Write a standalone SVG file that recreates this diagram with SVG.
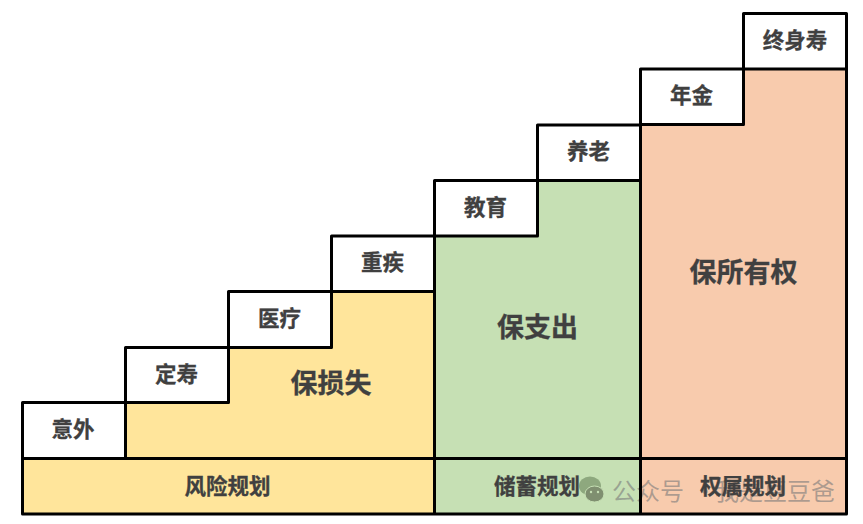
<svg xmlns="http://www.w3.org/2000/svg" width="863" height="524" viewBox="0 0 863 524">
<style>
.l{fill:none;stroke:#000;stroke-width:3;stroke-linejoin:round;stroke-linecap:round}
.c{fill:#fff;stroke:#000;stroke-width:3;stroke-linejoin:round}
text{font-family:"Noto Sans CJK SC","Noto Sans",sans-serif;font-weight:700;fill:#404040;stroke:#404040;stroke-width:.3;text-anchor:middle;dominant-baseline:central}
.s{font-size:21.500px}
.b{font-size:27px}
.w{font-size:24px;font-weight:400;fill:#7a7a7a;fill-opacity:.6;stroke:none;text-anchor:start}
</style>
<rect width="863" height="524" fill="#fff"/>
<g id="fills">
<path d="M22.500 458.500V514H434.500V292H331.500V347.500H125.500V458.500Z" fill="#ffe59b"/>
<path d="M434.500 514V236H537.500V181H640.500V514Z" fill="#c6e0b4"/>
<path d="M640.500 514V125H743.500V69H846.500V514Z" fill="#f8cbad"/>
</g>
<g id="watermark">
<ellipse cx="590" cy="486" rx="11" ry="9.500" fill="#7f9a70" fill-opacity=".8"/>
<ellipse cx="594.500" cy="494" rx="9.500" ry="8" fill="#7f8f70" stroke="#c6e0b4" stroke-width="1"/>
<circle cx="591" cy="492" r="1.200" fill="#c6e0b4"/>
<circle cx="598" cy="492" r="1.200" fill="#c6e0b4"/>
<text class="w" x="612" y="489">公众号</text>
<text class="w" x="693" y="489">·</text>
<text class="w" x="715" y="489">我是豆豆爸</text>
</g>
<g id="node-yiwai"><rect class="c" x="22.500" y="402.500" width="103" height="56"/><text class="s" x="73" y="427">意外</text></g>
<g id="node-dingshou"><rect class="c" x="125.500" y="347.500" width="103" height="55"/><text class="s" x="176.500" y="372">定寿</text></g>
<g id="node-yiliao"><rect class="c" x="228.500" y="291.500" width="103" height="56"/><text class="s" x="279.500" y="316">医疗</text></g>
<g id="node-zhongji"><rect class="c" x="331.500" y="236" width="103" height="55.500"/><text class="s" x="382.500" y="260">重疾</text></g>
<g id="node-jiaoyu"><rect class="c" x="434.500" y="180.500" width="103" height="55.500"/><text class="s" x="485.500" y="205">教育</text></g>
<g id="node-yanglao"><rect class="c" x="537.500" y="125" width="103" height="55.500"/><text class="s" x="588.500" y="149">养老</text></g>
<g id="node-nianjin"><rect class="c" x="640.500" y="69" width="103" height="55.500"/><text class="s" x="691.500" y="93">年金</text></g>
<g id="node-zhongshenshou"><rect class="c" x="743.500" y="13.500" width="103" height="55.500"/><text class="s" x="795" y="38">终身寿</text></g>
<g id="connectors">
<path class="l" d="M22.500 458.500H846.500V514H22.500ZM434.500 236V514M640.500 125V514M846.500 69V458.500M331.500 291.500H434.500M125.500 402.500V458.500"/>
</g>
<g id="node-baosunshi"><text class="b" x="331" y="381">保损失</text></g>
<g id="node-baozhichu"><text class="b" x="537.500" y="325">保支出</text></g>
<g id="node-baosuoyouquan"><text class="b" x="743.500" y="270">保所有权</text></g>
<g id="node-fengxian"><text class="s" x="227.500" y="484">风险规划</text></g>
<g id="node-chuxu"><text class="s" x="537" y="484">储蓄规划</text></g>
<g id="node-quanshu"><text class="s" x="743" y="484">权属规划</text></g>
</svg>
